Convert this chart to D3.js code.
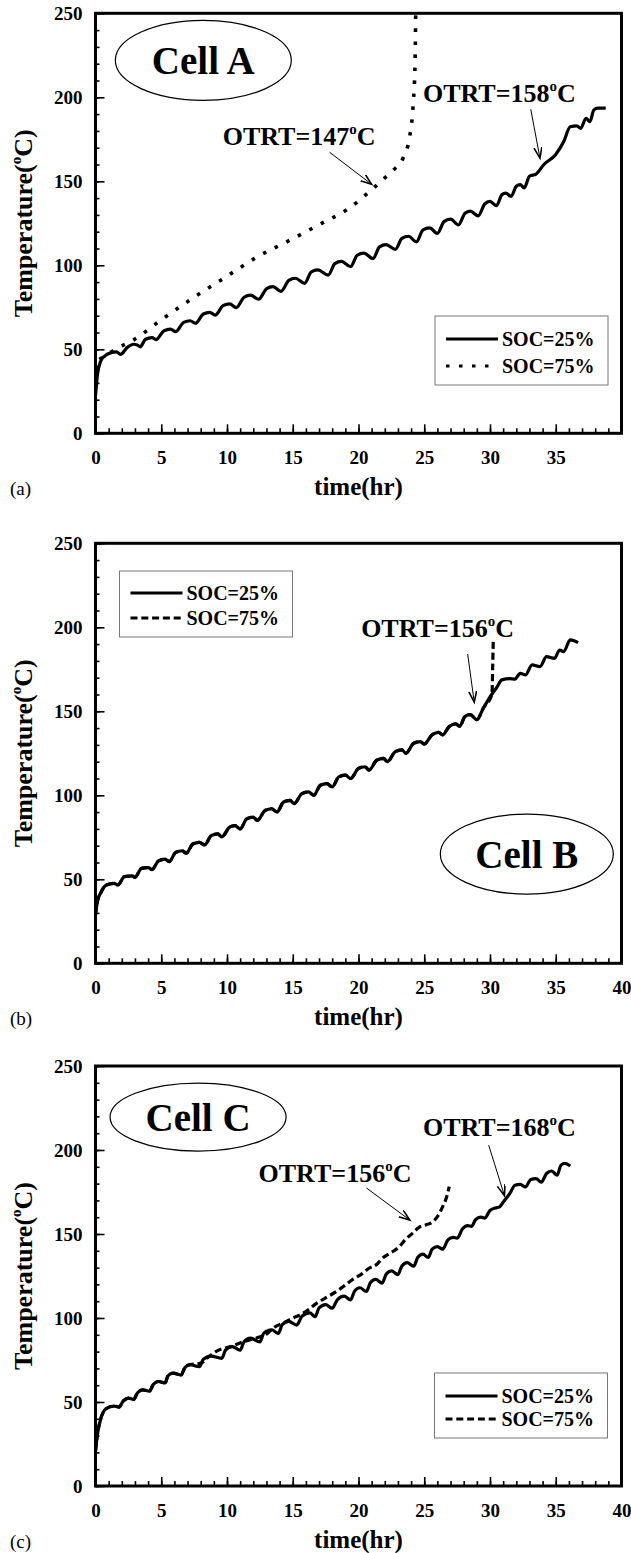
<!DOCTYPE html>
<html>
<head>
<meta charset="utf-8">
<script src="https://cdn.jsdelivr.net/npm/d3@7"></script>
<style>
  body { margin: 0; background: #fff; }
  text { font-family: "Liberation Serif", "Times New Roman", serif; }
</style>
</head>
<body>
<svg id="chart" width="631" height="1553"></svg>
<script>
// tick labels
const timeTicksA = [0, 5, 10, 15, 20, 25, 30, 35];
const timeTicks = [0, 5, 10, 15, 20, 25, 30, 35, 40];
const tempTicks = [0, 50, 100, 150, 200, 250];
const legendNames = ['SOC=25%', 'SOC=75%'];

// Cell A  [time (hr), temperature (C)]
const cellA25 = [[0,22],[0.15,35],[0.4,43],[0.7,46],[1.2,48],[1.6,48.5],[1.9,47],
  [2.4,51],[2.9,53],[3.2,52.5],[3.4,51.5],[3.8,56],[4.3,57],[4.6,55.8],
  [5.2,61],[5.7,62],[6.1,60.5],[6.7,66],[7.2,67],[7.6,65.5],
  [8.2,71],[8.7,72],[9.1,70.3],[9.7,76],[10.2,77],[10.7,74.8],
  [11.3,81],[11.8,82.3],[12.4,79.8],[13,86],[13.5,87.3],[14.1,84.5],
  [14.7,91],[15.2,92.3],[15.9,89.3],[16.4,96],[16.9,97.3],[17.7,94.2],
  [18.2,101],[18.7,102.3],[19.4,99.2],[19.9,106],[20.4,107.3],[21.1,104],
  [21.6,111],[22.1,112.3],[22.8,109.5],[23.3,116],[23.8,117.3],[24.4,114],
  [24.9,121],[25.4,122.3],[26,119],[26.5,126],[27,127.5],[27.6,124],
  [28.1,131],[28.5,132.3],[29.1,129.4],[29.6,136.5],[30,138],[30.5,135.5],
  [30.9,142],[31.2,143],[31.6,141],[32,147],[32.3,148],[32.6,146],
  [33,153],[33.5,154.3],[34.1,160],[35,166],[35.6,173.5],[36.1,182.5],
  [36.6,183],[36.9,181.5],[37.3,187.5],[37.6,185.5],[37.9,192.5],[38.2,193.5],[38.8,193.5]];
const cellA75 = [[0.3,44],[0.7,46],[1.5,50],[2.9,55.6],[5,67.5],[7.5,81],[9.9,93],
  [12.3,105],[14.8,115],[17.2,125],[19.1,133],[21,145],[22,152],[22.7,157],
  [23.4,164],[23.9,177],[24.15,195],[24.3,220],[24.35,250]];

// Cell B
const cellB25 = [[0,29],[0.15,37],[0.4,42],[0.8,46.5],[1.4,47.6],[1.7,46.6],
  [2.2,51.6],[2.8,52],[3,51.2],[3.5,56.5],[4,57],[4.3,55.8],
  [4.8,61],[5.3,62],[5.6,60.5],[6.1,66],[6.6,67],[6.9,65.5],
  [7.4,71],[7.9,72],[8.3,70.5],[8.8,76],[9.3,77],[9.6,75.3],
  [10.2,81],[10.6,82],[11,80],[11.5,86],[12,87],[12.3,85],
  [12.9,91],[13.4,92],[13.8,90],[14.3,96],[14.8,97],[15.1,95],
  [15.7,101],[16.2,102],[16.6,100],[17.1,106],[17.6,107],[18,105],
  [18.5,111],[19,112],[19.4,110],[20,116],[20.5,117],[20.8,115],
  [21.4,121],[21.9,122],[22.2,120],[22.8,126],[23.3,127],[23.6,125],
  [24.2,131],[24.7,132],[25,130.5],[25.6,136],[26.1,137.5],[26.4,136],
  [26.9,141],[27.4,142.5],[27.7,141],[28.1,147],[28.5,148],[29,145],
  [29.5,152],[30.1,159.7],[30.5,164],[30.9,168.7],[31.5,169.5],[31.9,169.2],
  [32.3,172.6],[32.7,171.6],[33.2,177.6],[33.8,176.6],[34.3,182.5],[34.9,181.5],
  [35.3,186.5],[35.6,185.5],[36.1,192.5],[36.4,192],[36.7,190.9]];
// SOC=75% runs on top of SOC=25% until it jumps at ~30 hr
const cellB75 = cellB25.filter(d => d[0] <= 29.5)
  .concat([[30.15,160],[30.2,175],[30.25,193]]);

// Cell C
const cellC25 = [[0,21],[0.15,31],[0.4,40],[0.8,46],[1.4,47.6],[1.8,47],
  [2.1,50.5],[2.5,52.3],[2.9,51.5],[3.2,55.5],[3.6,57.2],[4.1,56.4],
  [4.4,60.5],[4.8,62.2],[5.3,61.3],[5.5,65.5],[5.9,67.2],[6.5,66],
  [6.8,70.5],[7.2,72.2],[7.9,71],[8.2,75.5],[8.8,77.3],[9.6,76],
  [9.9,81],[10.4,83],[11,80.8],[11.3,86],[11.8,88],[12.5,85.8],
  [12.8,91],[13.4,93],[13.9,90.8],[14.2,96],[14.7,98],[15.3,95.8],
  [15.7,101],[16.3,103],[16.7,100.8],[17,106],[17.5,108],[18,105.8],
  [18.4,111],[18.9,113],[19.4,110.8],[19.7,116],[20.1,118],[20.6,115.8],
  [20.9,121],[21.3,123],[21.8,120.8],[22.1,126],[22.5,128],[23,125.8],
  [23.3,131],[23.7,133],[24.2,130.8],[24.5,136],[24.9,138],[25.3,136],
  [25.6,141],[26,142.5],[26.4,141],[26.8,146.5],[27.2,148],[27.5,147.5],
  [27.9,153],[28.3,155],[28.6,154.5],[28.9,158.5],[29.3,160],[29.6,159.5],
  [30,164],[30.4,165.5],[30.7,166],[31.1,170],[31.5,174],[31.9,179],
  [32.3,179.5],[32.7,178],[33.1,182.5],[33.5,183],[33.9,180.8],[34.3,186],
  [34.7,187.5],[35.1,185],[35.4,191],[35.7,192],[36.1,190.5]];
const cellC75 = cellC25.filter(d => d[0] <= 7.2)
  .concat([[8,73],[8.6,77],[9.4,81],[10.3,83],[11.3,86],[12.2,88],[13.1,91],
  [13.6,94.5],[14.3,97],[15,100],[15.6,102],[16.2,105],[16.8,108.7],[17.5,112],
  [18.3,115.7],[18.9,119],[19.5,122.6],[20.2,126],[20.8,129.6],[21.4,132],
  [21.8,135.5],[22.5,139],[23.1,142.5],[23.6,147],[24.1,150.4],[24.6,154],
  [25.1,155.4],[25.6,157],[26,160.3],[26.4,166.3],[26.7,172],[26.9,178.2]]);

const svg = d3.select('#chart');
const X0 = 95.5, W = 526, H = 420;
const x = d3.scaleLinear().domain([0, 40]).range([0, W]);
const y = d3.scaleLinear().domain([0, 250]).range([H, 0]);
const line = d3.line().x(d => x(d[0])).y(d => y(d[1])).curve(d3.curveMonotoneX);

const dashes = { solid: null, dot: '3.5,9.5', dash: '7,3.8' };

svg.append('defs').append('marker')
  .attr('id', 'arrow').attr('markerUnits', 'userSpaceOnUse')
  .attr('markerWidth', 14).attr('markerHeight', 10)
  .attr('refX', 11).attr('refY', 4).attr('orient', 'auto')
  .append('path').attr('d', 'M0,0 L11,4 L0,8')
  .attr('fill', 'none').attr('stroke', '#000').attr('stroke-width', 1.6);

const panels = [
  { top: 13.3, tag: '(a)', xt: timeTicksA,
    series: [{ data: cellA75, style: 'dot' }, { data: cellA25, style: 'solid' }],
    legend: { x: 339.5, y: 302.7, w: 173, h: 69, r1: 23, r2: 50, style: 'dot' },
    cell: { name: 'Cell A', t: 8.2, T: 222, rx: 88, ry: 40 },
    notes: [
      { lab: '147', t: 9.67, T: 171.4, a: [17.8, 167.3, 21.0, 148.2] },
      { lab: '158', t: 24.9, T: 197.2, a: [33.1, 192.9, 33.8, 163.7] }
    ] },
  { top: 543.3, tag: '(b)', xt: timeTicks,
    series: [{ data: cellB75, style: 'dash' }, { data: cellB25, style: 'solid' }],
    legend: { x: 24, y: 27.7, w: 173, h: 66, r1: 22, r2: 47, style: 'dash' },
    cell: { name: 'Cell B', t: 32.8, T: 65, rx: 86.5, ry: 40 },
    notes: [
      { lab: '156', t: 20.2, T: 194.2, a: [28.3, 184.1, 28.8, 155.5] }
    ] },
  { top: 1066, tag: '(c)', xt: timeTicks,
    series: [{ data: cellC75, style: 'dash' }, { data: cellC25, style: 'solid' }],
    legend: { x: 339, y: 307, w: 173, h: 65, r1: 23, r2: 46, style: 'dash' },
    cell: { name: 'Cell C', t: 7.8, T: 219.6, rx: 88, ry: 34 },
    notes: [
      { lab: '168', t: 24.9, T: 208.5, a: [29.9, 202.9, 31.1, 172.8] },
      { lab: '156', t: 12.4, T: 181.1, a: [20.6, 177.4, 23.9, 158.3] }
    ] }
];

panels.forEach(function (p, i) {
  const g = svg.append('g').attr('transform', 'translate(' + X0 + ',' + p.top + ')');

  g.append('clipPath').attr('id', 'clip' + i)
    .append('rect').attr('width', W).attr('height', H);

  // minor ticks
  g.append('g').call(d3.axisLeft(y).tickValues(d3.range(0, 251, 10)).tickSize(-4).tickFormat(''))
    .call(a => a.select('.domain').remove());
  g.append('g').attr('transform', 'translate(0,' + H + ')')
    .call(d3.axisBottom(x).tickValues(d3.range(0, 41, 1)).tickSize(-5).tickFormat(''))
    .call(a => a.select('.domain').remove());

  // major ticks + labels
  g.append('g').call(d3.axisLeft(y).tickValues(tempTicks).tickSize(-9).tickPadding(13))
    .call(a => a.select('.domain').remove());
  g.append('g').attr('transform', 'translate(0,' + H + ')')
    .call(d3.axisBottom(x).tickValues(p.xt).tickSize(-9).tickPadding(17.5))
    .call(a => a.select('.domain').remove());
  g.selectAll('.tick line').attr('stroke-width', 1.6);
  g.selectAll('.tick text').attr('font-size', 19).attr('font-weight', 'bold')
    .attr('font-family', '"Liberation Serif", serif').attr('fill', '#000');

  // curves
  const lines = g.append('g').attr('clip-path', 'url(#clip' + i + ')');
  p.series.forEach(function (s) {
    lines.append('path').datum(s.data)
      .attr('d', line).attr('fill', 'none').attr('stroke', '#000')
      .attr('stroke-width', s.style === 'dot' ? 3.6 : 3.2)
      .attr('stroke-dasharray', dashes[s.style]);
  });

  // frame
  g.append('rect').attr('width', W).attr('height', H)
    .attr('fill', 'none').attr('stroke', '#000').attr('stroke-width', 3);

  // cell ellipse
  const c = p.cell;
  g.append('ellipse').attr('cx', x(c.t)).attr('cy', y(c.T))
    .attr('rx', c.rx).attr('ry', c.ry)
    .attr('fill', 'none').attr('stroke', '#000').attr('stroke-width', 1.2);
  g.append('text').attr('x', x(c.t)).attr('y', y(c.T) + 14)
    .attr('text-anchor', 'middle').attr('font-size', 39).attr('font-weight', 'bold')
    .text(c.name);

  // OTRT notes
  p.notes.forEach(function (n) {
    const t = g.append('text').attr('x', x(n.t)).attr('y', y(n.T))
      .attr('font-size', 26).attr('font-weight', 'bold');
    t.append('tspan').text('OTRT=' + n.lab);
    t.append('tspan').attr('font-size', 15).attr('dy', -11).text('o');
    t.append('tspan').attr('dy', 11).text('C');
    g.append('line')
      .attr('x1', x(n.a[0])).attr('y1', y(n.a[1]))
      .attr('x2', x(n.a[2])).attr('y2', y(n.a[3]))
      .attr('stroke', '#000').attr('stroke-width', 1)
      .attr('marker-end', 'url(#arrow)');
  });

  // legend
  const L = p.legend;
  const lg = g.append('g').attr('transform', 'translate(' + L.x + ',' + L.y + ')');
  lg.append('rect').attr('width', L.w).attr('height', L.h)
    .attr('fill', '#fff').attr('stroke', '#777').attr('stroke-width', 1);
  [L.r1, L.r2].forEach(function (ry, k) {
    lg.append('line').attr('x1', 11).attr('x2', 63).attr('y1', ry).attr('y2', ry)
      .attr('stroke', '#000').attr('stroke-width', 3.2)
      .attr('stroke-dasharray', k === 0 ? null : dashes[L.style]);
    lg.append('text').attr('x', 67).attr('y', ry + 7)
      .attr('font-size', 20).attr('font-weight', 'bold').text(legendNames[k]);
  });

  // axis titles
  g.append('text').attr('x', W / 2).attr('y', H + 62)
    .attr('text-anchor', 'middle').attr('font-size', 25).attr('font-weight', 'bold')
    .text('time(hr)');
  const yt = g.append('text')
    .attr('transform', 'translate(' + (32 - X0) + ',' + (H / 2) + ') rotate(-90)')
    .attr('text-anchor', 'middle').attr('font-size', 26).attr('font-weight', 'bold');
  yt.append('tspan').text('Temperature(');
  yt.append('tspan').attr('font-size', 15).attr('dy', -11).text('o');
  yt.append('tspan').attr('dy', 11).text('C)');

  g.append('text').attr('x', 10 - X0).attr('y', H + 62)
    .attr('font-size', 19).text(p.tag);
});
</script>
</body>
</html>
